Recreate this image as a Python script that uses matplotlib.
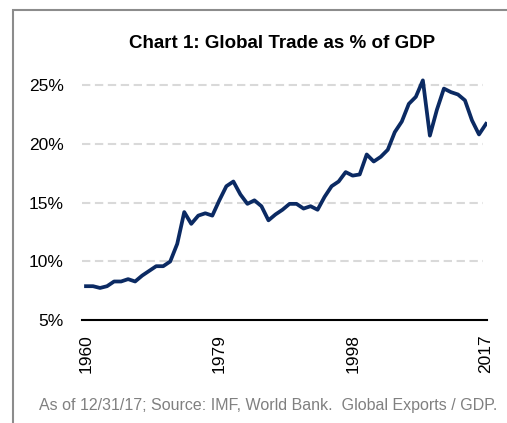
import matplotlib
matplotlib.use("Agg")
import matplotlib.pyplot as plt
from matplotlib.patches import Rectangle

years = list(range(1960, 2018))
trade_pct = [
    7.9, 7.9, 7.75, 7.9, 8.3, 8.3, 8.5, 8.3, 8.8, 9.2,
    9.6, 9.6, 10.0, 11.5, 14.2, 13.2, 13.9, 14.1, 13.9, 15.2,
    16.4, 16.8, 15.7, 14.9, 15.2, 14.7, 13.5, 14.0, 14.4, 14.9,
    14.9, 14.5, 14.7, 14.4, 15.5, 16.4, 16.8, 17.6, 17.3, 17.4,
    19.1, 18.5, 18.9, 19.5, 21.0, 21.9, 23.4, 24.0, 25.4, 20.7,
    22.9, 24.7, 24.4, 24.2, 23.7, 22.0, 20.8, 21.7,
]
x_ticks = [1960, 1979, 1998, 2017]
y_ticks = [5, 10, 15, 20, 25]
y_labels = ["5%", "10%", "15%", "20%", "25%"]

plt.rcParams["font.family"] = ["Liberation Sans", "DejaVu Sans"]

W, H = 507, 423
fig = plt.figure(figsize=(W / 100, H / 100), dpi=100)

# outer frame (cropped at right/bottom in the original)
fig.patches.append(Rectangle((13 / W, -0.1), 1.2, 1 - 10 / H + 0.1,
                             transform=fig.transFigure, fill=False,
                             edgecolor="#8c8c8c", linewidth=1.5))

ax = fig.add_axes([82 / W, 1 - 320.3 / H, 405 / W, (320.3 - 73.3) / H])
ax.plot(years, trade_pct, color="#0b2a63", linewidth=2.7, solid_joinstyle="round")

ax.set_xlim(1959.43, 2017.14)
ax.set_ylim(5, 26)
ax.set_yticks(y_ticks)
ax.set_yticklabels(y_labels)
ax.set_xticks(x_ticks)
ax.set_xticklabels([str(y) for y in x_ticks], rotation=90)
ax.tick_params(axis="both", length=0, labelsize=12.5, colors="black")
ax.tick_params(axis="y", pad=13)
ax.tick_params(axis="x", pad=10)

for v in y_ticks[1:]:
    ax.plot([0, 401 / 405], [v, v], transform=ax.get_yaxis_transform(),
            color="#d9d9d9", linewidth=1.5, dashes=(4, 2.2), zorder=0)

for s in ["top", "right", "left"]:
    ax.spines[s].set_visible(False)
ax.spines["bottom"].set_linewidth(1.5)
ax.spines["bottom"].set_color("black")

fig.text(282 / W, 1 - 43 / H, "Chart 1: Global Trade as % of GDP",
         ha="center", va="center", fontsize=13.5, fontweight="bold")
fig.text(497 / W, 1 - 405 / H,
         "As of 12/31/17; Source: IMF, World Bank.  Global Exports / GDP.",
         ha="right", va="center", fontsize=11.5, color="#808080")

fig.savefig("out.png", dpi=100)
